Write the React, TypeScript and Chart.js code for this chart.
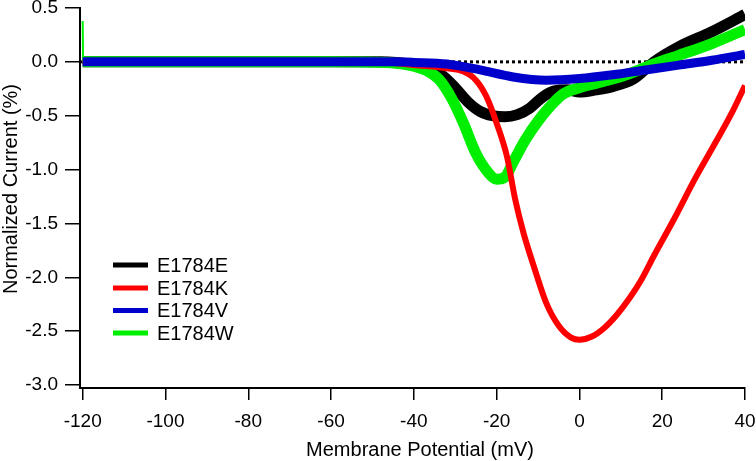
import React, { useEffect, useRef } from "react";
import { Chart, registerables } from "chart.js";

Chart.register(...registerables);

// ---------- data ----------
const xTickValues = [-120, -100, -80, -60, -40, -20, 0, 20, 40];
const yTickValues = [0.5, 0.0, -0.5, -1.0, -1.5, -2.0, -2.5, -3.0];
const seriesLabels = ["E1784E", "E1784K", "E1784V", "E1784W"];
const seriesColors = ["#000000", "#ff0000", "#0000cc", "#00ee00"];

const blackX = [-120, -100, -80, -60, -48, -40, -36, -33, -30, -27, -24, -21, -18, -15, -12, -9, -6, -3, 0, 4, 8, 13, 18, 24, 32, 40];
const blackY = [0, 0, 0, 0, 0, -0.03, -0.07, -0.13, -0.24, -0.37, -0.46, -0.5, -0.51, -0.49, -0.43, -0.33, -0.27, -0.26, -0.28, -0.26, -0.23, -0.16, 0.0, 0.14, 0.28, 0.44];

const redX = [-120, -100, -80, -60, -45, -40, -32, -28, -25, -22.5, -20, -17.5, -15.5, -13.5, -11, -8, -5, -2, 0, 3, 6, 9, 12, 15, 18, 23, 28, 33, 37, 40];
const redY = [0, 0, 0, 0, -0.01, -0.03, -0.06, -0.09, -0.17, -0.32, -0.57, -0.88, -1.28, -1.59, -1.9, -2.24, -2.45, -2.56, -2.58, -2.55, -2.47, -2.35, -2.2, -2.02, -1.8, -1.45, -1.08, -0.74, -0.46, -0.22];

const blueX = [-120, -100, -80, -60, -45, -40, -32, -24, -16, -8, 0, 8, 16, 24, 32, 40];
const blueY = [0, 0, 0, 0, 0, -0.005, -0.02, -0.075, -0.14, -0.17, -0.155, -0.12, -0.075, -0.03, 0.015, 0.07];

const greenX = [-120, -100, -80, -60, -45, -40, -37, -34, -31, -28, -25, -22, -20, -18, -16, -13, -10, -7, -4, 0, 4, 8, 12, 18, 24, 32, 40];
const greenY = [0, 0, 0, 0, -0.01, -0.04, -0.08, -0.16, -0.33, -0.57, -0.85, -1.03, -1.09, -1.07, -0.93, -0.72, -0.55, -0.41, -0.3, -0.24, -0.2, -0.16, -0.11, -0.02, 0.06, 0.17, 0.3];

const greenSpikeX = [-120, -119.9];
const greenSpikeY = [0.38, 0.0];

const zeroLineX = [-120.65, 40];
const zeroLineY = [0, 0];

const xTitle = "Membrane Potential (mV)";
const yTitle = "Normalized Current (%)";

const FONT = "'Liberation Sans', Arial, sans-serif";

const toPoints = (xs: number[], ys: number[]) => xs.map((x, i) => ({ x, y: ys[i] }));

export default function App() {
  const canvasRef = useRef<HTMLCanvasElement | null>(null);

  useEffect(() => {
    const canvas = canvasRef.current;
    if (!canvas) return;

    const legendPlugin = {
      id: "customLegend",
      afterDraw(chart: any) {
        const ctx = chart.ctx;
        ctx.save();
        const rowY = [265, 288, 310.5, 333];
        seriesLabels.forEach((label, i) => {
          const y = rowY[i];
          ctx.strokeStyle = seriesColors[i];
          ctx.lineWidth = 5;
          ctx.lineCap = "butt";
          ctx.beginPath();
          ctx.moveTo(113, y);
          ctx.lineTo(148, y);
          ctx.stroke();
          ctx.fillStyle = "#000";
          ctx.font = `20px ${FONT}`;
          ctx.textAlign = "left";
          ctx.textBaseline = "middle";
          ctx.fillText(label, 157, y + 1);
        });
        // axis titles
        ctx.font = `20px ${FONT}`;
        ctx.fillStyle = "#000";
        ctx.textAlign = "center";
        ctx.textBaseline = "alphabetic";
        ctx.fillText(xTitle, 420, 456);
        ctx.translate(17, 189);
        ctx.rotate(-Math.PI / 2);
        ctx.fillText(yTitle, 0, 0);
        ctx.restore();
      },
    };

    const chart = new Chart(canvas, {
      type: "line",
      data: {
        datasets: [
          {
            label: seriesLabels[2],
            data: toPoints(blueX, blueY),
            borderColor: seriesColors[2],
            borderWidth: 9,
            pointRadius: 0,
            cubicInterpolationMode: "monotone",
            order: 1,
          },
          {
            label: seriesLabels[1],
            data: toPoints(redX, redY),
            borderColor: seriesColors[1],
            borderWidth: 6,
            pointRadius: 0,
            cubicInterpolationMode: "monotone",
            order: 2,
          },
          {
            label: seriesLabels[3],
            data: toPoints(greenX, greenY),
            borderColor: seriesColors[3],
            borderWidth: 11,
            pointRadius: 0,
            cubicInterpolationMode: "monotone",
            order: 3,
          },
          {
            label: "spike",
            data: toPoints(greenSpikeX, greenSpikeY),
            borderColor: seriesColors[3],
            borderWidth: 2,
            pointRadius: 0,
            order: 3,
          },
          {
            label: seriesLabels[0],
            data: toPoints(blackX, blackY),
            borderColor: seriesColors[0],
            borderWidth: 11,
            pointRadius: 0,
            cubicInterpolationMode: "monotone",
            order: 4,
          },
          {
            label: "zero",
            data: toPoints(zeroLineX, zeroLineY),
            borderColor: "#000",
            borderWidth: 3,
            borderDash: [3, 3],
            pointRadius: 0,
            order: 5,
          },
        ],
      },
      options: {
        responsive: false,
        animation: false,
        events: [],
        layout: { padding: { top: 8, right: 11, left: 0, bottom: 0 } },
        plugins: {
          legend: { display: false },
          tooltip: { enabled: false },
          title: { display: false },
        },
        scales: {
          x: {
            type: "linear",
            min: -120.65,
            max: 40,
            afterBuildTicks: (scale: any) => {
              scale.ticks = xTickValues.map((v) => ({ value: v }));
            },
            afterFit: (scale: any) => {
              scale.height = 73;
              scale.paddingLeft = 0;
              scale.paddingRight = 0;
            },
            grid: {
              drawOnChartArea: false,
              drawTicks: true,
              tickLength: 12,
              color: "#000",
              lineWidth: 1.5,
            },
            border: { display: true, color: "#000", width: 2 },
            ticks: {
              color: "#000",
              font: { family: FONT, size: 19 },
              padding: 10,
              autoSkip: false,
              maxRotation: 0,
              callback: (v: any) => String(v),
            },
          },
          y: {
            type: "linear",
            min: -3.028,
            max: 0.5,
            afterBuildTicks: (scale: any) => {
              scale.ticks = yTickValues.map((v) => ({ value: v }));
            },
            afterFit: (scale: any) => {
              scale.width = 80;
              scale.paddingTop = 0;
              scale.paddingBottom = 0;
            },
            grid: {
              drawOnChartArea: false,
              drawTicks: true,
              tickLength: 15,
              color: "#000",
              lineWidth: 1.5,
            },
            border: { display: true, color: "#000", width: 2 },
            ticks: {
              color: "#000",
              font: { family: FONT, size: 19 },
              padding: 7,
              autoSkip: false,
              callback: (v: any) => Number(v).toFixed(1),
            },
          },
        },
      },
      plugins: [legendPlugin],
    } as any);

    return () => chart.destroy();
  }, []);

  return (
    <div style={{ position: "absolute", left: 0, top: 0, width: 756, height: 461, background: "#fff" }}>
      <canvas ref={canvasRef} width={756} height={461} />
    </div>
  );
}
